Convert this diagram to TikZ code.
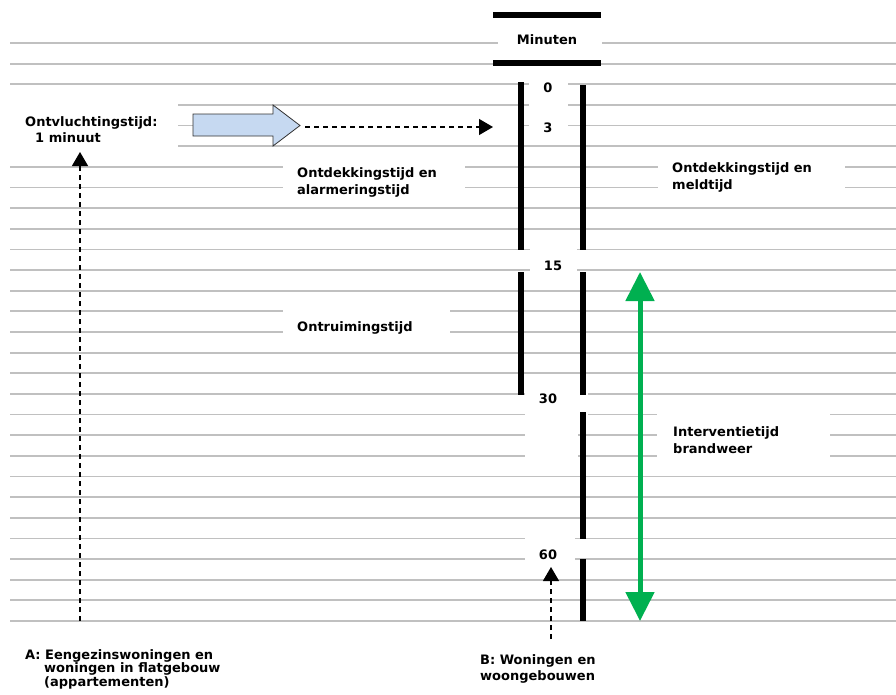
\documentclass[tikz,border=0pt]{standalone}
\usepackage{fontspec}
\setmainfont{DejaVu Sans}
\usetikzlibrary{arrows.meta}
\definecolor{gridgray}{RGB}{192,192,192}
\definecolor{arrowblue}{RGB}{198,217,241}
\definecolor{brandgreen}{RGB}{0,176,80}
\tikzset{
  gridline/.style={draw=gridgray, line width=1.8pt},
  mask/.style={fill=white, draw=none},
  bar/.style={draw=black, line width=5.5pt},
  lbl/.style={font=\fontsize{13}{17}\selectfont\bfseries, inner sep=0pt, anchor=west, align=left},
  num/.style={font=\fontsize{13}{17}\selectfont\bfseries, inner sep=0pt},
  dasharrow/.style={draw=black, line width=1.2pt, dash pattern=on 5pt off 4pt,
    -{Triangle[width=16pt,length=14pt]}},
  greenarrow/.style={draw=brandgreen, line width=5pt,
    {Triangle[width=28pt,length=29pt]}-{Triangle[width=28pt,length=29pt]}},
}
\begin{document}
\begin{tikzpicture}[x=1pt,y=-1pt]
\useasboundingbox (0,0) rectangle (896,694);
\fill[white] (0,0) rectangle (896,694);

% ruled background
\foreach \i in {0,...,28}
  \draw[gridline] (10,{43+\i*20.643}) -- (896,{43+\i*20.643});

% white areas behind the labels
\fill[mask] (498,25) rectangle (602,57);
\fill[mask] (529,74) rectangle (568,140);
\fill[mask] (530,244) rectangle (577,282);
\fill[mask] (525,386) rectangle (588,425);
\fill[mask] (525,386) rectangle (578,465);
\fill[mask] (525,530) rectangle (575,568);
\fill[mask] (0,95) rectangle (178,160);
\fill[mask] (283,160) rectangle (465,200);
\fill[mask] (658,160) rectangle (845,200);
\fill[mask] (283,305) rectangle (450,344);
\fill[mask] (657,405) rectangle (830,465);
\fill[mask] (300,118) rectangle (521,137);

% time axis bars
\draw[bar] (493,15) -- (601,15);
\draw[bar] (493,63) -- (601,63);
\draw[bar] (521,82) -- (521,250);
\draw[bar] (521,272) -- (521,395);
\draw[bar] (583,85) -- (583,250);
\draw[bar] (583,272) -- (583,395);
\draw[bar] (583,412) -- (583,539);
\draw[bar] (583,559) -- (583,621);

% axis labels
\node[num] (minuten) at (547,40) {Minuten};
\node[num] (t0) at (548,88) {0};
\node[num] (t3) at (548,128) {3};
\node[num] (t15) at (553,266) {15};
\node[num] (t30) at (548,399) {30};
\node[num] (t60) at (548,555) {60};

% phase labels
\node[lbl] (escape) at (25,130) {Ontvluchtingstijd:\\[-1pt]\hspace*{10pt}1 minuut};
\node[lbl] (detectA) at (297,182) {Ontdekkingstijd en\\alarmeringstijd};
\node[lbl] (detectB) at (672,177) {Ontdekkingstijd en\\meldtijd};
\node[lbl] (evac) at (297,328) {Ontruimingstijd};
\node[lbl] (fire) at (673,440) {Interventietijd\\brandweer};
\node[lbl, font=\fontsize{13}{13.5}\selectfont\bfseries] (typeA) at (25,669)
  {A: Eengezinswoningen en\\\hspace*{19pt}woningen in flatgebouw\\\hspace*{19pt}(appartementen)};
\node[lbl, font=\fontsize{13}{16}\selectfont\bfseries] (typeB) at (480,669)
  {B: Woningen en\\woongebouwen};

% block arrow for the escape time
\draw[fill=arrowblue, draw=black!80, line width=0.8pt]
  (193,114) -- (273,114) -- (273,105) -- (300,125.5) -- (273,146) -- (273,136) -- (193,136) -- cycle;
\coordinate (escTip) at (305,127);
\coordinate (axisThree) at (493,127);
\draw[dasharrow] (escTip) -- (axisThree);

% pointers from the building types
\coordinate (aBase) at (80,621);
\coordinate (aTip) at (80,152);
\draw[dasharrow] (aBase) -- (aTip);
\coordinate (bBase) at (551,639);
\coordinate (bTip) at (551,567);
\draw[dasharrow] (bBase) -- (bTip);

% fire brigade intervention span
\coordinate (gTop) at (640,272);
\coordinate (gBot) at (640,621);
\draw[greenarrow] (gTop) -- (gBot);
\end{tikzpicture}
\end{document}
